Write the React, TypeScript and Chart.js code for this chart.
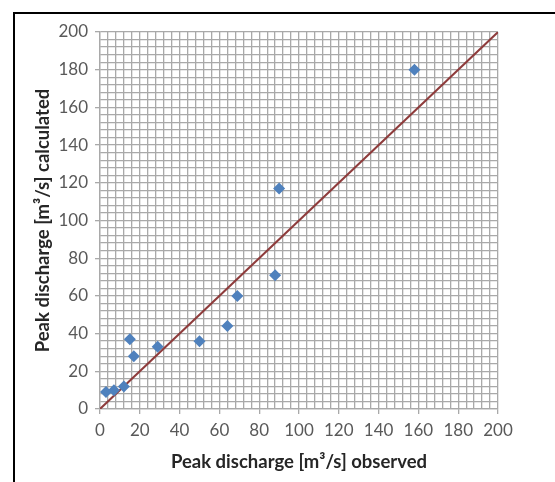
import React, { useEffect, useRef } from "react";
import { Chart, registerables } from "chart.js";

Chart.register(...registerables);

const observed = [3, 7, 12, 15, 17, 29, 50, 64, 69, 88, 90, 158];
const calculated = [9, 10, 12, 37, 28, 33, 36, 44, 60, 71, 117, 180];
const lineX = [0, 200];
const lineY = [0, 200];
const xTitle = "Peak discharge [m³/s] observed";
const yTitle = "Peak discharge [m³/s] calculated";

const GRID = "#a9a9a9";
const FONT = "Lato";

export default function App() {
  const ref = useRef<HTMLCanvasElement | null>(null);
  useEffect(() => {
    if (!ref.current) return;
    const pts = observed.map((x, i) => ({ x, y: calculated[i] }));
    const line = lineX.map((x, i) => ({ x, y: lineY[i] }));
    const axis = (title: string, pad: any, tickPad: number) => ({
      type: "linear" as const,
      min: 0,
      max: 200,
      ticks: {
        stepSize: 4,
        autoSkip: false,
        maxRotation: 0,
        minRotation: 0,
        padding: tickPad,
        color: "#595959",
        font: { family: FONT, size: 17 },
        callback: (v: any) => (Number(v) % 20 === 0 ? String(v) : ""),
      },
      grid: {
        color: GRID,
        lineWidth: 1.3,
        tickLength: 5,
        tickColor: (c: any) => (c.tick && c.tick.value % 20 === 0 ? GRID : "transparent"),
      },
      border: { color: GRID, width: 1.3 },
      title: {
        display: true,
        text: title,
        color: "#262626",
        font: { family: FONT, size: 18.5, weight: "bold" as const },
        padding: pad,
      },
    });
    const chart = new Chart(ref.current, {
      type: "scatter",
      data: {
        datasets: [
          {
            data: pts,
            pointStyle: "rectRot",
            pointRadius: 6,
            backgroundColor: "#4F81BD",
            borderColor: "#4F81BD",
            borderWidth: 0,
            order: 0,
          },
          {
            data: line,
            showLine: true,
            pointRadius: 0,
            borderColor: "#8E3B3B",
            borderWidth: 2,
            order: 1,
          } as any,
        ],
      },
      options: {
        responsive: false,
        animation: false,
        layout: { padding: { top: 32, right: 57, left: 0, bottom: 0 } },
        plugins: { legend: { display: false }, tooltip: { enabled: false } },
        scales: {
          x: {
            ...axis(xTitle, { top: 0, bottom: 9 }, 6),
            afterFit: (s: any) => {
              s.height = 73;
            },
          },
          y: {
            ...axis(yTitle, { top: 32, bottom: 0 }, 7),
            afterFit: (s: any) => {
              s.width = 100;
            },
          },
        } as any,
      },
    });
    return () => chart.destroy();
  }, []);
  return (
    <div
      style={{
        position: "fixed",
        left: 0,
        top: 0,
        width: 555,
        height: 482,
        overflow: "hidden",
        background: "#fff",
      }}
    >
      <canvas ref={ref} width={555} height={482} style={{ position: "absolute", left: 0, top: 0 }} />
      <div
        style={{
          position: "absolute",
          left: 13,
          top: 12,
          width: 600,
          height: 600,
          borderLeft: "2px solid #000",
          borderTop: "2px solid #000",
        }}
      />
    </div>
  );
}
